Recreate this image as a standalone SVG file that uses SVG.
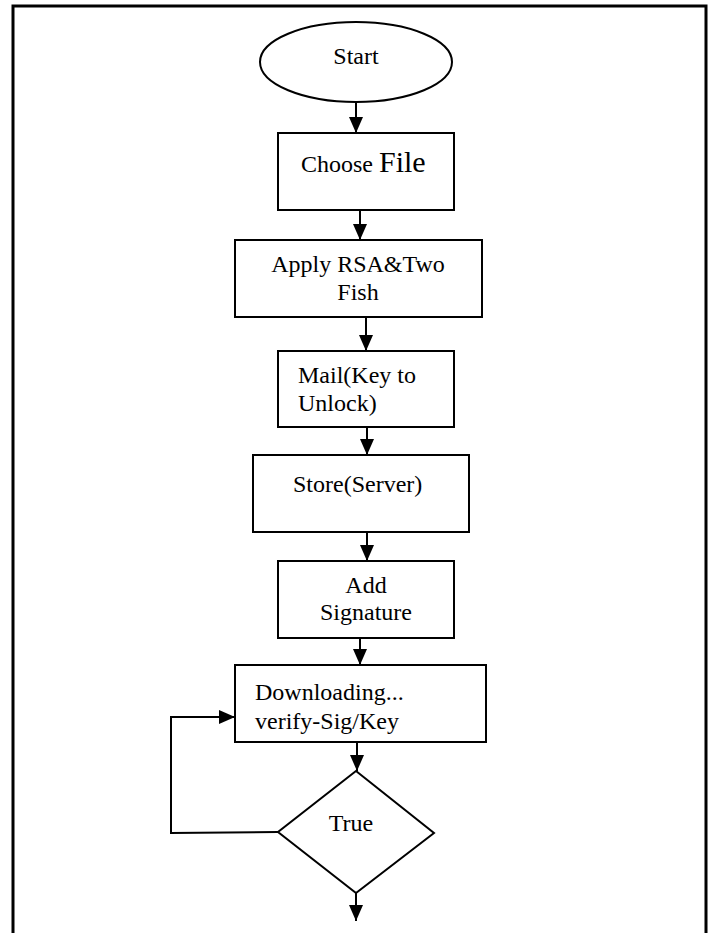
<svg xmlns="http://www.w3.org/2000/svg" width="716" height="933" viewBox="0 0 716 933">
<defs>
<marker id="ah" viewBox="0 0 16 14" refX="16" refY="7" markerWidth="16" markerHeight="14" markerUnits="userSpaceOnUse" orient="auto">
<path d="M0,0 L16,7 L0,14 Z" fill="#000"/>
</marker>
</defs>
<style>
.n{fill:#fff;stroke:#000;stroke-width:2}
.t{font-family:"Liberation Serif","Times New Roman",serif;font-size:24px;fill:#000}
.c{fill:none;stroke:#000;stroke-width:2}
.b{fill:none;stroke:#000;stroke-width:3}
</style>
<rect width="716" height="933" fill="#fff"/>
<path class="b" d="M13,933 L13,6 L706,6 L706,933"/>
<g id="connectors">
<line class="c" x1="356" y1="103" x2="356" y2="133" marker-end="url(#ah)"/>
<line class="c" x1="360" y1="210" x2="360" y2="240" marker-end="url(#ah)"/>
<line class="c" x1="366" y1="317" x2="366" y2="351" marker-end="url(#ah)"/>
<line class="c" x1="367" y1="427" x2="367" y2="455" marker-end="url(#ah)"/>
<line class="c" x1="367" y1="532" x2="367" y2="561" marker-end="url(#ah)"/>
<line class="c" x1="360" y1="638" x2="360" y2="665" marker-end="url(#ah)"/>
<line class="c" x1="357" y1="742" x2="357" y2="771" marker-end="url(#ah)"/>
<line class="c" x1="356" y1="893" x2="356" y2="921" marker-end="url(#ah)"/>
<polyline class="c" points="278,832 171,833 171,717 235,717" marker-end="url(#ah)"/>
</g>
<g id="start">
<ellipse class="n" cx="356" cy="62" rx="96" ry="40"/>
<text class="t" x="356" y="64" text-anchor="middle">Start</text>
</g>
<g id="choose-file">
<rect class="n" x="278" y="133" width="176" height="77"/>
<text class="t" x="301" y="172">Choose <tspan font-size="30px">File</tspan></text>
</g>
<g id="apply-rsa">
<rect class="n" x="235" y="240" width="247" height="77"/>
<text class="t" x="358" y="272" text-anchor="middle">Apply RSA&amp;Two</text>
<text class="t" x="358" y="300" text-anchor="middle">Fish</text>
</g>
<g id="mail">
<rect class="n" x="278" y="351" width="176" height="76"/>
<text class="t" x="298" y="383">Mail(Key to</text>
<text class="t" x="298" y="411">Unlock)</text>
</g>
<g id="store">
<rect class="n" x="253" y="455" width="216" height="77"/>
<text class="t" x="293" y="492">Store(Server)</text>
</g>
<g id="add-signature">
<rect class="n" x="278" y="561" width="176" height="77"/>
<text class="t" x="366" y="593" text-anchor="middle">Add</text>
<text class="t" x="366" y="620" text-anchor="middle">Signature</text>
</g>
<g id="downloading">
<rect class="n" x="235" y="665" width="251" height="77"/>
<text class="t" x="255" y="700">Downloading...</text>
<text class="t" x="255" y="729">verify-Sig/Key</text>
</g>
<g id="true-decision">
<polygon class="n" points="356,771 434,833 356,893 278,832"/>
<text class="t" x="351" y="831" text-anchor="middle">True</text>
</g>
</svg>
